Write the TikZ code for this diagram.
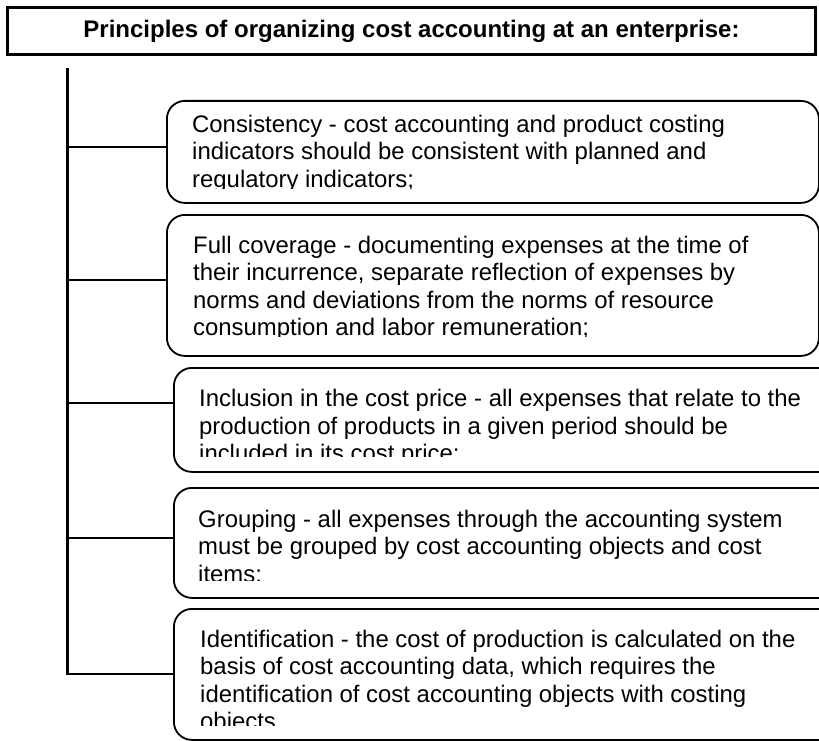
\documentclass[tikz,border=0pt]{standalone}
\usepackage{fontspec}
\setmainfont{Liberation Sans}
\usetikzlibrary{positioning, calc}

\begin{document}
\begin{tikzpicture}[x=1pt, y=-1pt,
    headbox/.style={draw, line width=3pt, minimum width=808pt, minimum height=47pt,
                    inner sep=0pt, font=\fontsize{24}{27}\selectfont\bfseries},
    pbox/.style={draw, line width=1.8pt, rounded corners=18pt, anchor=north west,
                 inner sep=0pt},
    ptext/.style={anchor=north west, inner sep=0pt, align=left,
                  font=\fontsize{23.9}{27.5}\selectfont},
    link/.style={line width=1.8pt}
  ]
  \useasboundingbox (0,0) rectangle (819,741);

  % Title
  \node[headbox] (head) at (411.5,31.5) {Principles of organizing cost accounting at an enterprise:};

  % Principle boxes
  \foreach \name/\x/\y/\w/\h in {
    b1/166/100/652/102,
    b2/166/214/652/141,
    b3/173/367/680/104,
    b4/173/487/680/110,
    b5/173/608/680/131
  }{
    \node[pbox, minimum width=\w pt, minimum height=\h pt] (\name) at (\x,\y) {};
  }

  % Texts, cut off at the lower edge as in the printed sheet
  \begin{scope}
    \clip (b1.north west) rectangle (818,188);
    \node[ptext] (t1) at ($(b1.north west)+(26,14.5)$)
      {Consistency - cost accounting and product costing\\
       indicators should be consistent with planned and\\
       regulatory indicators;};
  \end{scope}
  \begin{scope}
    \clip (b2.north west) rectangle (818,336);
    \node[ptext] (t2) at ($(b2.north west)+(27,21.5)$)
      {Full coverage - documenting expenses at the time of\\
       their incurrence, separate reflection of expenses by\\
       norms and deviations from the norms of resource\\
       consumption and labor remuneration;};
  \end{scope}
  \begin{scope}
    \clip (b3.north west) rectangle (819,456);
    \node[ptext] (t3) at ($(b3.north west)+(26,22)$)
      {Inclusion in the cost price - all expenses that relate to the\\
       production of products in a given period should be\\
       included in its cost price;};
  \end{scope}
  \begin{scope}
    \clip (b4.north west) rectangle (819,580);
    \node[ptext] (t4) at ($(b4.north west)+(25,22.5)$)
      {Grouping - all expenses through the accounting system\\
       must be grouped by cost accounting objects and cost\\
       items;};
  \end{scope}
  \begin{scope}
    \clip (b5.north west) rectangle (819,725);
    \node[ptext] (t5) at ($(b5.north west)+(27,21.5)$)
      {Identification - the cost of production is calculated on the\\
       basis of cost accounting data, which requires the\\
       identification of cost accounting objects with costing\\
       objects.};
  \end{scope}

  % Spine and branches
  \coordinate (top) at (67,68);
  \coordinate (bot) at (67,675);
  \draw[line width=3pt] (top) -- (bot);
  \foreach \name/\y in {b1/147, b2/280, b3/403, b4/538, b5/674}{
    \coordinate (s-\name) at (67,\y);
    \draw[link] (s-\name) -- (s-\name -| \name.west);
  }
\end{tikzpicture}
\end{document}
